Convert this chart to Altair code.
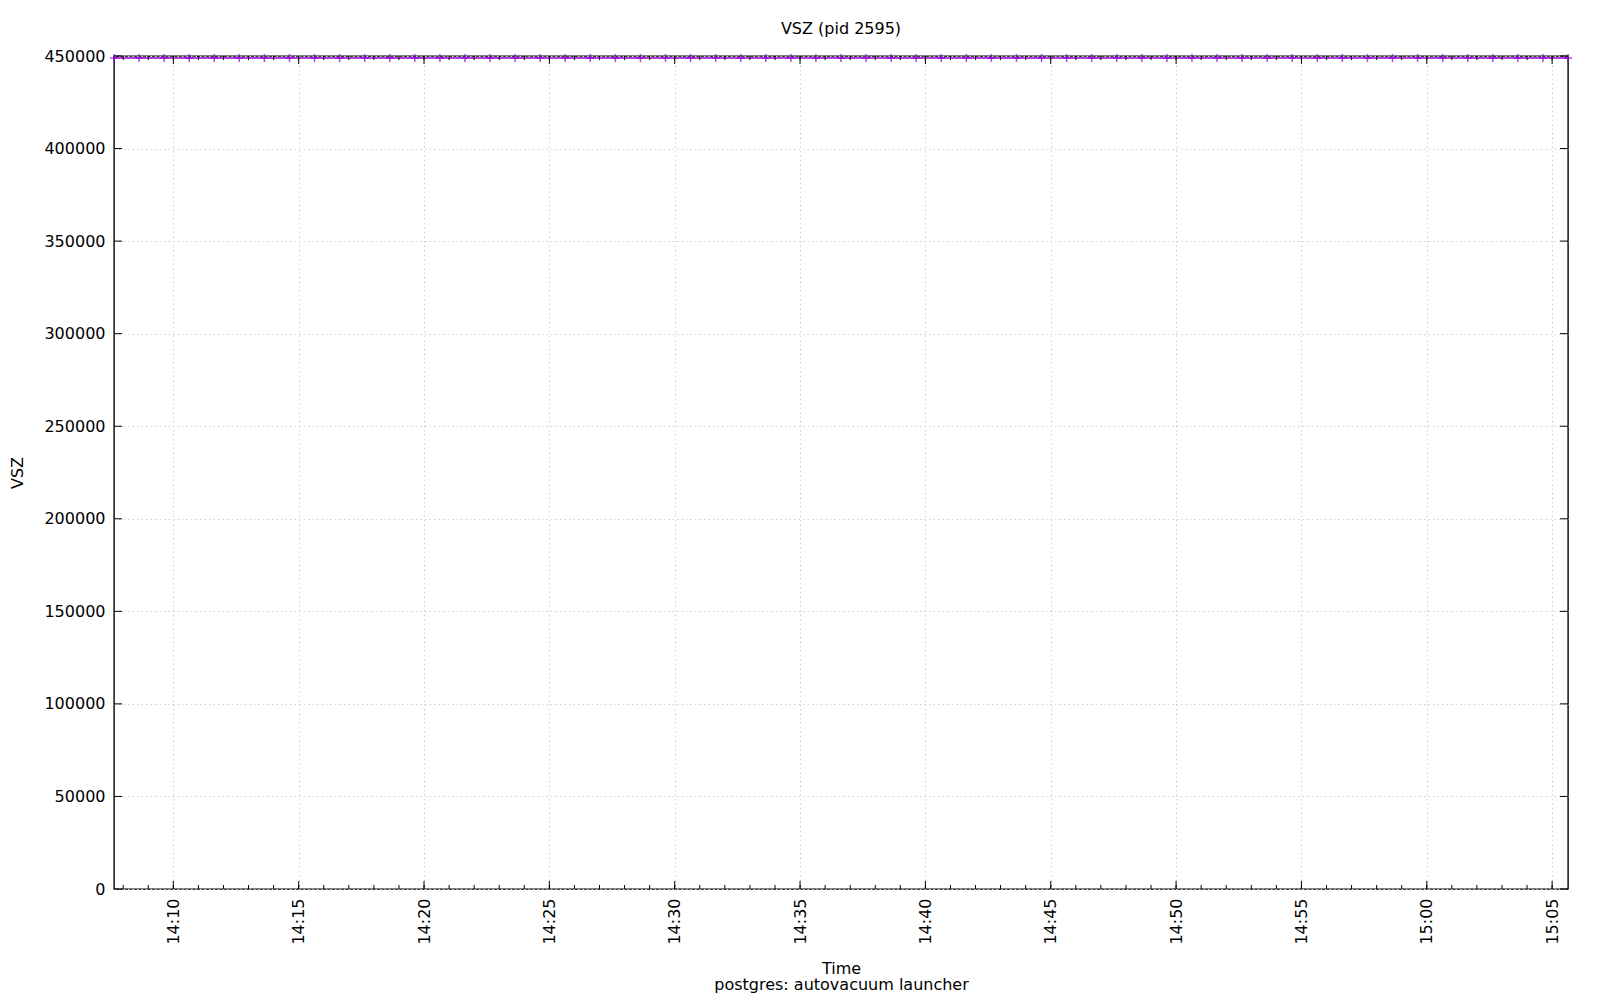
import altair as alt
import pandas as pd

# ---- data ----
sample_times = [
    "14:07:38", "14:08:38", "14:09:38", "14:10:38", "14:11:38", "14:12:38", "14:13:38",
    "14:14:38", "14:15:38", "14:16:38", "14:17:38", "14:18:38", "14:19:38", "14:20:38",
    "14:21:38", "14:22:38", "14:23:38", "14:24:38", "14:25:38", "14:26:38", "14:27:38",
    "14:28:38", "14:29:38", "14:30:38", "14:31:38", "14:32:38", "14:33:38", "14:34:38",
    "14:35:38", "14:36:38", "14:37:38", "14:38:38", "14:39:38", "14:40:38", "14:41:38",
    "14:42:38", "14:43:38", "14:44:38", "14:45:38", "14:46:38", "14:47:38", "14:48:38",
    "14:49:38", "14:50:38", "14:51:38", "14:52:38", "14:53:38", "14:54:38", "14:55:38",
    "14:56:38", "14:57:38", "14:58:38", "14:59:38", "15:00:38", "15:01:38", "15:02:38",
    "15:03:38", "15:04:38", "15:05:38",
]
vsz_values = [
    448900, 448900, 448900, 448900, 448900, 448900, 448900,
    448900, 448900, 448900, 448900, 448900, 448900, 448900,
    448900, 448900, 448900, 448900, 448900, 448900, 448900,
    448900, 448900, 448900, 448900, 448900, 448900, 448900,
    448900, 448900, 448900, 448900, 448900, 448900, 448900,
    448900, 448900, 448900, 448900, 448900, 448900, 448900,
    448900, 448900, 448900, 448900, 448900, 448900, 448900,
    448900, 448900, 448900, 448900, 448900, 448900, 448900,
    448900, 448900, 448900,
]
major_x_ticks = ["14:10", "14:15", "14:20", "14:25", "14:30", "14:35",
                 "14:40", "14:45", "14:50", "14:55", "15:00", "15:05"]
minor_x_ticks = [
    "14:08", "14:09", "14:10", "14:11", "14:12", "14:13", "14:14", "14:15", "14:16",
    "14:17", "14:18", "14:19", "14:20", "14:21", "14:22", "14:23", "14:24", "14:25",
    "14:26", "14:27", "14:28", "14:29", "14:30", "14:31", "14:32", "14:33", "14:34",
    "14:35", "14:36", "14:37", "14:38", "14:39", "14:40", "14:41", "14:42", "14:43",
    "14:44", "14:45", "14:46", "14:47", "14:48", "14:49", "14:50", "14:51", "14:52",
    "14:53", "14:54", "14:55", "14:56", "14:57", "14:58", "14:59", "15:00", "15:01",
    "15:02", "15:03", "15:04", "15:05",
]
y_ticks = [0, 50000, 100000, 150000, 200000, 250000, 300000, 350000, 400000, 450000]

DAY = "2024-01-01T"
df = pd.DataFrame({"time": [DAY + t for t in sample_times], "vsz": vsz_values})
df_major = pd.DataFrame({"time": [DAY + t + ":00" for t in major_x_ticks]})
df_minor = pd.DataFrame({"time": [DAY + t + ":00" for t in minor_x_ticks]})
df_y = pd.DataFrame({"vsz": y_ticks})

W, H = 1454, 833
FONT = "DejaVu Sans"
FS = 16
PURPLE = "#9400D3"
GRID = "#d0d0d0"

x_values = [alt.DateTime(year=2024, month=1, date=1,
                         hours=int(t.split(":")[0]), minutes=int(t.split(":")[1]))
            for t in major_x_ticks]

x_scale = alt.Scale(nice=False)
y_scale = alt.Scale(domain=[0, 450000], nice=False)

x_axis = alt.Axis(
    title=["Time", "postgres: autovacuum launcher"],
    format="%H:%M", values=x_values,
    labelAngle=270, labelAlign="right", labelBaseline="middle", labelPadding=9,
    labelFontSize=FS, labelFont=FONT, labelColor="#000",
    titleFontSize=FS, titleFont=FONT, titleFontWeight="normal", titleColor="#000",
    titleLineHeight=16, titleY=84, titleBaseline="alphabetic",
    ticks=False, domain=False,
    grid=True, gridDash=[1.5, 3], gridColor=GRID, gridWidth=1,
)
y_axis = alt.Axis(
    title="VSZ", values=y_ticks, format="d",
    labelPadding=9, labelFontSize=FS, labelFont=FONT, labelColor="#000",
    titleFontSize=FS, titleFont=FONT, titleFontWeight="normal", titleColor="#000",
    titleX=-97, titleY=H / 2, titleAngle=270, titleAlign="center", titleBaseline="middle",
    ticks=False, domain=False,
    grid=True, gridDash=[1.5, 3], gridColor=GRID, gridWidth=1,
)

X = lambda: alt.X("time:T", scale=x_scale, axis=x_axis)
Y = lambda: alt.Y("vsz:Q", scale=y_scale, axis=y_axis)

base = alt.Chart(df)
line = base.mark_line(color=PURPLE, strokeWidth=1.5).encode(x=X(), y=Y())
points = base.mark_point(
    shape="M-1,0L1,0M0,-1L0,1", size=64, color=PURPLE, filled=False, strokeWidth=1.5
).encode(x=X(), y=Y())

def xrule(data, y0, y1):
    return alt.Chart(data).mark_rule(color="#000", strokeWidth=1).encode(
        x=X(), y=alt.value(y0), y2=alt.value(y1)
    )

def yrule(x0, x1):
    return alt.Chart(df_y).mark_rule(color="#000", strokeWidth=1).encode(
        y=Y(), x=alt.value(x0), x2=alt.value(x1)
    )

ticks = [
    xrule(df_major, H, H - 8), xrule(df_major, 0, 8),
    xrule(df_minor, H, H - 4), xrule(df_minor, 0, 4),
    yrule(0, 8), yrule(W, W - 8),
]

chart = alt.layer(line, *ticks, points).properties(
    width=W, height=H,
    title=alt.Title("VSZ (pid 2595)", fontSize=FS, font=FONT, fontWeight="normal",
                    color="#000", offset=11, anchor="middle"),
    autosize=alt.AutoSizeParams(type="none"),
    padding={"left": 106, "top": 48, "right": 24, "bottom": 110},
    background="#ffffff",
).configure_view(stroke="#000", strokeWidth=1.4)

chart.save("out.html", embed_options={"renderer": "svg", "actions": False})
